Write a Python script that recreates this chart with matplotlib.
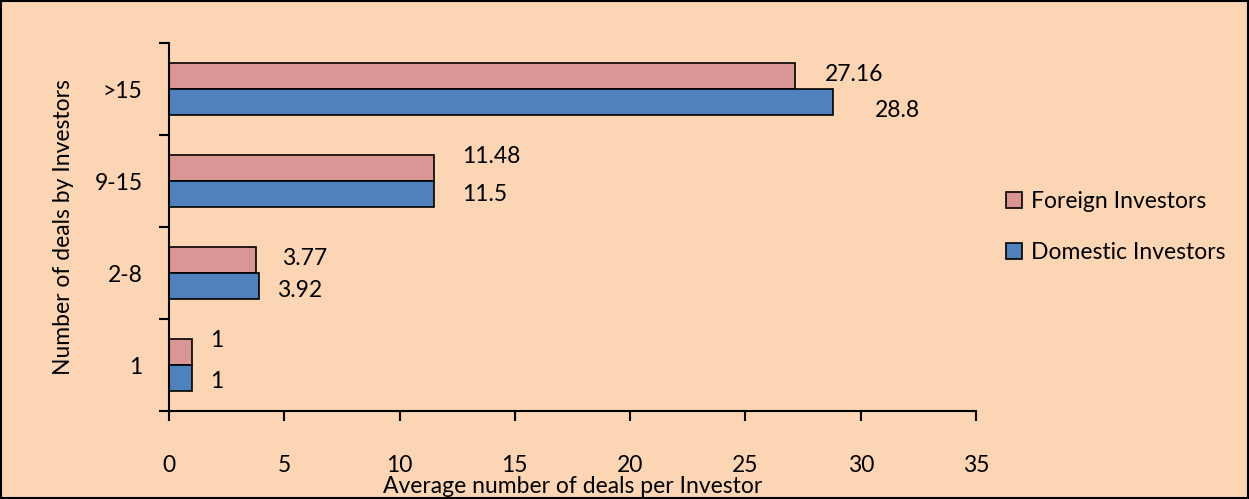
import matplotlib.pyplot as plt
import numpy as np

plt.rcParams['font.family'] = ['Lato', 'DejaVu Sans']

categories = ['1', '2-8', '9-15', '>15']
foreign = [1, 3.77, 11.48, 27.16]
domestic = [1, 3.92, 11.5, 28.8]
foreign_labels = ['1', '3.77', '11.48', '27.16']
domestic_labels = ['1', '3.92', '11.5', '28.8']

# label nudges in pixels (dx, dy) so the numbers sit like the original layout
foreign_off = [(18, 11), (26, 1), (28, 11), (30, 1)]
domestic_off = [(18, -3), (18, -4), (28, 0), (42, -8)]

bg = '#fcd5b5'
pink = '#d99694'
blue = '#4f81bd'
fs = 16.5

fig = plt.figure(figsize=(12.49, 4.99), dpi=100, facecolor=bg)
fig.patches.append(plt.Rectangle((0.001, 0.002), 0.998, 0.996, transform=fig.transFigure,
                                 fill=False, edgecolor='black', linewidth=1.5))
ax = fig.add_axes([169 / 1249, 1 - 411 / 499, (976 - 169) / 1249, (411 - 43) / 499])
ax.set_facecolor(bg)

y = np.arange(len(categories))
h = 0.283
ax.barh(y + h / 2, foreign, height=h, color=pink, edgecolor='black', linewidth=1.2,
        label='Foreign Investors')
ax.barh(y - h / 2, domestic, height=h, color=blue, edgecolor='black', linewidth=1.2,
        label='Domestic Investors')

px = 72 / 100
for i in range(len(categories)):
    dx, dy = foreign_off[i]
    ax.annotate(foreign_labels[i], (foreign[i], y[i] + h / 2), xytext=(dx * px, dy * px),
                textcoords='offset points', fontsize=fs, va='center', ha='left')
    dx, dy = domestic_off[i]
    ax.annotate(domestic_labels[i], (domestic[i], y[i] - h / 2), xytext=(dx * px, dy * px),
                textcoords='offset points', fontsize=fs, va='center', ha='left')

ax.set_xlim(0, 35)
ax.set_ylim(-0.5, 3.5)
ax.set_xticks(range(0, 36, 5))
ax.set_yticks(y)
ax.set_yticklabels(categories)
ax.set_yticks(np.arange(-0.5, 4, 1), minor=True)
ax.tick_params(axis='y', which='major', length=0, labelsize=fs, pad=19)
ax.tick_params(axis='y', which='minor', length=7, width=1.5, direction='out')
ax.tick_params(axis='x', length=7, width=1.5, direction='out', labelsize=fs, pad=25)

for s in ['top', 'right']:
    ax.spines[s].set_visible(False)
for s in ['left', 'bottom']:
    ax.spines[s].set_linewidth(1.5)

ax.set_xlabel('Average number of deals per Investor', fontsize=fs, labelpad=0)
ax.set_ylabel('Number of deals by Investors', fontsize=fs, labelpad=15)

ax.legend(loc='center left', bbox_to_anchor=(985 / 1249, 1 - 227 / 499),
          bbox_transform=fig.transFigure, frameon=False, fontsize=fs,
          handlelength=0.7, handleheight=0.7, handletextpad=0.4, labelspacing=1.3)

fig.savefig('out.png', dpi=100, facecolor=bg)
